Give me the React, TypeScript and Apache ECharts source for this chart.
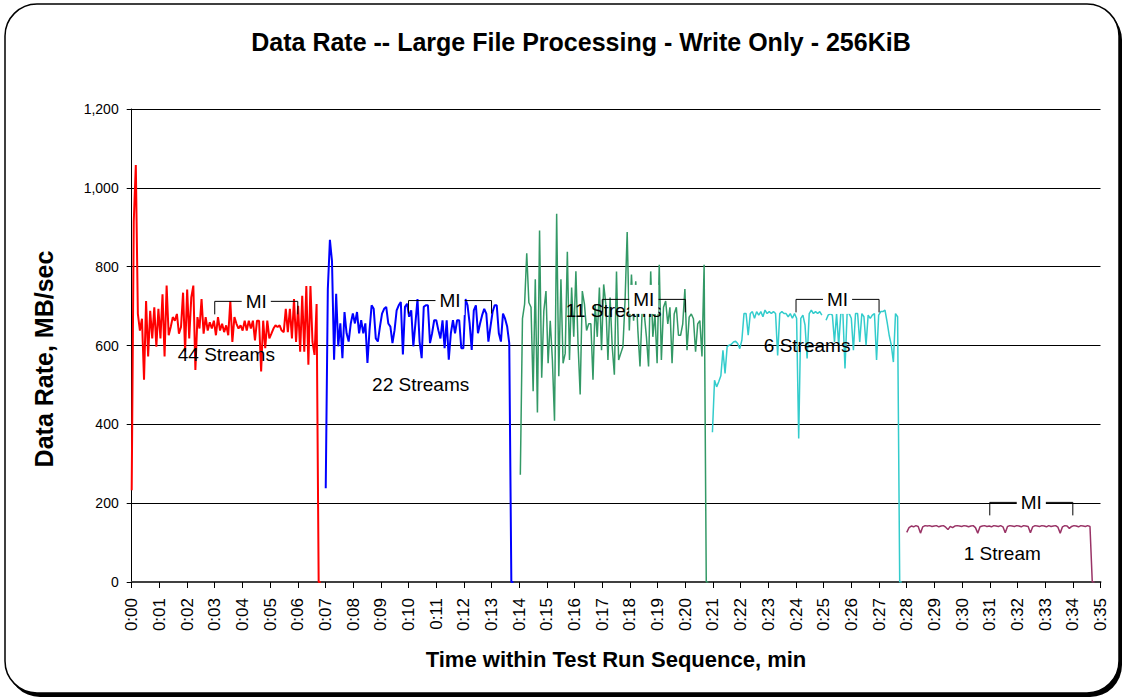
import React, { useEffect, useRef } from 'react';
import * as echarts from 'echarts';

const FONT = '"Liberation Sans", Arial, Helvetica, sans-serif';

const TITLE = 'Data Rate -- Large File Processing - Write Only - 256KiB';
const X_NAME = 'Time within Test Run Sequence, min';
const Y_NAME = 'Data Rate, MB/sec';

// x axis: minutes 0..35, labelled 0:00 .. 0:35
const X_MIN = 0;
const X_MAX = 35;
const Y_MIN = 0;
const Y_MAX = 1200;
const Y_STEP = 200;

// Each run: first sample time (min), time of the last non-zero sample (min), sampled values (MB/sec)
const red44Start = 0;
const red44Last = 6.68;
const red44Values = [
  233, 914, 1058, 680, 638, 668, 513, 713, 572, 688,
  618, 697, 597, 693, 618, 730, 572, 752, 626, 647,
  672, 663, 680, 630, 647, 734, 584, 742, 618, 722,
  752, 538, 672, 643, 718, 630, 672, 638, 659, 643,
  663, 626, 672, 638, 655, 634, 651, 626, 713, 609,
  672, 655, 643, 651, 638, 663, 638, 663, 643, 663,
  613, 663, 663, 534, 663, 593, 663, 618, 630, 643,
  651, 647, 651, 638, 634, 693, 634, 693, 618, 718,
  609, 701, 584, 726, 584, 751, 551, 751, 609, 576,
  705, 0, 0,
];

const blue22Start = 7.01;
const blue22Last = 13.64;
const blue22Values = [
  238, 743, 868, 814, 564, 731, 598, 656, 568, 685,
  631, 610, 656, 681, 656, 685, 631, 664, 631, 656,
  556, 639, 702, 693, 618, 610, 648, 681, 693, 698,
  656, 648, 606, 639, 689, 702, 710, 577, 698, 706,
  673, 689, 598, 656, 718, 610, 568, 698, 702, 702,
  606, 631, 664, 664, 639, 618, 664, 593, 664, 564,
  631, 664, 631, 664, 664, 593, 593, 718, 702, 656,
  589, 689, 702, 631, 656, 677, 693, 681, 610, 648,
  685, 702, 702, 631, 610, 681, 668, 648, 606, 0,
  0,
];

const green11Start = 14.04;
const green11Last = 20.68;
const green11Values = [
  272, 668, 705, 834, 709, 697, 484, 768, 430, 892,
  518, 688, 738, 555, 663, 563, 409, 934, 522, 768,
  555, 580, 838, 563, 747, 622, 788, 605, 476, 738,
  705, 638, 655, 655, 513, 705, 622, 747, 588, 755,
  705, 563, 722, 597, 526, 788, 563, 580, 597, 713,
  888, 638, 780, 663, 763, 638, 547, 688, 680, 622,
  547, 788, 622, 680, 555, 805, 563, 697, 713, 655,
  697, 555, 680, 697, 626, 626, 655, 743, 588, 672,
  680, 668, 584, 655, 663, 572, 805, 0, 0,
];

const cyan6Start = 20.98;
const cyan6Last = 27.67;
const cyan6Values = [
  380, 512, 495, 508, 523, 588, 529, 597, 601, 603,
  609, 611, 605, 592, 614, 681, 681, 626, 681, 686,
  669, 686, 677, 686, 673, 690, 681, 686, 681, 686,
  681, 575, 681, 686, 681, 681, 673, 681, 669, 681,
  669, 364, 669, 677, 652, 567, 681, 690, 681, 686,
  681, 686, 677, null, 664, 677, 681, 677, 609, 681,
  601, 681, 681, 542, 681, 681, 669, 588, 681, 681,
  609, 681, 673, 601, 677, 669, 677, 681, 563, 677,
  686, 686, 690, 660, 626, 601, 558, 681, 673, 0,
  0,
];

const maroon1Start = 28.0;
const maroon1Last = 34.62;
const maroon1Values = [
  126, 138, 142, 140, 143, 141, 124, 140, 143, 142,
  143, 141, 142, 143, 140, 142, 143, 139, 133, 141,
  138, 142, 143, 142, 141, 143, 142, 140, 142, 143,
  138, 124, 140, 142, 143, 141, 142, 140, 143, 142,
  141, 143, 140, 125, 141, 143, 142, 141, 143, 142,
  140, 143, 142, 141, 125, 140, 143, 142, 141, 143,
  142, 140, 143, 141, 142, 143, 139, 124, 140, 143,
  142, 136, 141, 143, 142, 140, 143, 142, 141, 143,
  141, 0, 0,
];

// "MI" measurement-interval brackets: start/end minute and level (MB/sec)
const miStart = [3, 10, 17, 24, 31];
const miEnd = [6, 13, 20, 27, 34];
const miLevel = [712, 714, 717, 717, 202];

// Run labels
const runLabels = ['44 Streams', '22 Streams', '11 Streams', '6 Streams', '1 Stream'];
const runLabelTime = [3.42, 10.44, 17.41, 24.4, 31.45];
const runLabelRate = [578, 502, 690, 601, 73];

function toPairs(start: number, last: number, values: (number | null)[]) {
  // the last non-zero sample sits two samples before the end (two trailing zeros)
  const step = (last - start) / (values.length - 3);
  return values.map((v, i) => [start + i * step, v]);
}

function lineSeries(name: string, color: string, width: number, data: any[]) {
  return {
    name,
    type: 'line',
    data,
    showSymbol: false,
    symbol: 'none',
    connectNulls: false,
    z: 5,
    lineStyle: { color, width },
    itemStyle: { color },
    emphasis: { disabled: true },
  };
}

const pad2 = (n: number) => (n < 10 ? '0' + n : '' + n);

export default function App() {
  const ref = useRef<HTMLDivElement>(null);

  useEffect(() => {
    const chart = echarts.init(ref.current!, null, { renderer: 'svg' });

    const option: any = {
      animation: false,
      backgroundColor: '#ffffff',
      textStyle: { fontFamily: FONT },
      grid: { left: 131.7, right: 26.5, top: 109, bottom: 118, containLabel: false },
      xAxis: {
        type: 'value',
        min: X_MIN,
        max: X_MAX,
        interval: 1,
        z: 3,
        axisLine: { show: true, lineStyle: { color: '#404040', width: 2 } },
        axisTick: { show: true, length: 6, inside: false, lineStyle: { color: '#000', width: 1 } },
        axisLabel: {
          rotate: 90,
          margin: 16,
          fontSize: 17,
          color: '#000',
          fontFamily: FONT,
          formatter: (v: number) => '0:' + pad2(Math.round(v)),
        },
        splitLine: { show: false },
      },
      yAxis: {
        type: 'value',
        min: Y_MIN,
        max: Y_MAX,
        interval: Y_STEP,
        z: 3,
        axisLine: { show: true, lineStyle: { color: '#000', width: 1 } },
        axisTick: { show: true, length: 5, inside: false, lineStyle: { color: '#000' } },
        axisLabel: {
          margin: 13,
          fontSize: 14,
          color: '#000',
          fontFamily: FONT,
          formatter: (v: number) => v.toLocaleString('en-US'),
        },
        splitLine: { show: true, lineStyle: { color: '#000', width: 1 } },
      },
      graphic: {
        elements: [
          {
            type: 'rect',
            z: -2,
            silent: true,
            shape: { x: 8, y: 8, width: 1114, height: 689, r: 32 },
            style: { fill: '#000' },
          },
          {
            type: 'rect',
            z: -1,
            silent: true,
            shape: { x: 5, y: 4, width: 1114, height: 689, r: 32 },
            style: { fill: '#fff', stroke: '#000', lineWidth: 1.5 },
          },
          {
            type: 'text',
            z: 20,
            x: 581,
            y: 42,
            style: {
              text: TITLE,
              align: 'center',
              verticalAlign: 'middle',
              font: 'bold 25px ' + FONT,
              fill: '#000',
            },
          },
          {
            type: 'text',
            z: 20,
            x: 616,
            y: 659,
            style: {
              text: X_NAME,
              align: 'center',
              verticalAlign: 'middle',
              font: 'bold 22px ' + FONT,
              fill: '#000',
            },
          },
          {
            type: 'text',
            z: 20,
            x: 44,
            y: 359,
            rotation: Math.PI / 2,
            style: {
              text: Y_NAME,
              align: 'center',
              verticalAlign: 'middle',
              font: 'bold 25px ' + FONT,
              fill: '#000',
            },
          },
        ],
      },
      series: [
        lineSeries('44 Streams', '#FF0000', 2, toPairs(red44Start, red44Last, red44Values)),
        lineSeries('22 Streams', '#0000FF', 2, toPairs(blue22Start, blue22Last, blue22Values)),
        lineSeries('11 Streams', '#339966', 1.5, toPairs(green11Start, green11Last, green11Values)),
        lineSeries('6 Streams', '#33CCCC', 1.5, toPairs(cyan6Start, cyan6Last, cyan6Values)),
        lineSeries('1 Stream', '#993366', 1.5, toPairs(maroon1Start, maroon1Last, maroon1Values)),
        {
          type: 'custom',
          name: 'runLabels',
          z: 8,
          silent: true,
          clip: false,
          encode: { x: 0, y: 1 },
          data: runLabelTime.map((t, i) => [t, runLabelRate[i]]),
          renderItem: (params: any, api: any) => {
            const p = api.coord([api.value(0), api.value(1)]);
            return {
              type: 'text',
              x: p[0],
              y: p[1],
              style: {
                text: runLabels[params.dataIndex],
                align: 'center',
                verticalAlign: 'middle',
                font: '19px ' + FONT,
                fill: '#000',
              },
            };
          },
        },
        {
          type: 'custom',
          name: 'MI',
          z: 10,
          silent: true,
          clip: false,
          encode: { x: [0, 1], y: 2 },
          data: miStart.map((s, i) => [s, miEnd[i], miLevel[i]]),
          renderItem: (params: any, api: any) => {
            const a = api.coord([api.value(0), api.value(2)]);
            const b = api.coord([api.value(1), api.value(2)]);
            const drop = 13;
            return {
              type: 'group',
              children: [
                {
                  type: 'polyline',
                  shape: {
                    points: [
                      [a[0], a[1] + drop],
                      [a[0], a[1]],
                      [b[0], b[1]],
                      [b[0], b[1] + drop],
                    ],
                  },
                  style: { stroke: '#000', fill: null, lineWidth: 1 },
                },
                {
                  type: 'text',
                  x: (a[0] + b[0]) / 2,
                  y: a[1],
                  style: {
                    text: 'MI',
                    align: 'center',
                    verticalAlign: 'middle',
                    font: '19px ' + FONT,
                    fill: '#000',
                    backgroundColor: '#fff',
                    padding: [5, 4],
                  },
                },
              ],
            };
          },
        },
      ],
    };

    chart.setOption(option);
    return () => chart.dispose();
  }, []);

  return (
    <div
      ref={ref}
      style={{ position: 'absolute', left: 0, top: 0, width: 1127, height: 700 }}
    />
  );
}
